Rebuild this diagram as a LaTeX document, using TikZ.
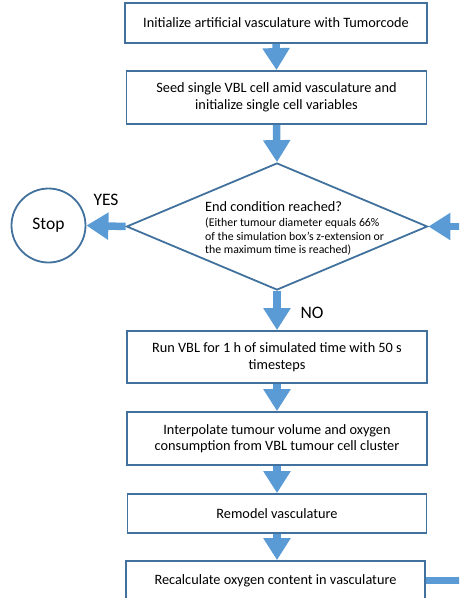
\documentclass[tikz,border=0pt]{standalone}
\usepackage{fontspec}
\setmainfont{Carlito}
\usetikzlibrary{shapes.geometric,arrows.meta}
\definecolor{boxline}{HTML}{41719C}
\definecolor{arrowblue}{HTML}{5B9BD5}
\begin{document}
\begin{tikzpicture}[x=1pt,y=-1pt,
  stepbox/.style={draw=boxline, line width=1.8pt, fill=white, minimum width=300pt,
    inner sep=0pt, align=center, font=\fontsize{14.3}{16.5}\selectfont},
  flow/.style={draw=arrowblue, line width=7.5pt, -{Triangle[width=26pt,length=22pt]}},
  biglabel/.style={font=\fontsize{17.5}{20}\selectfont, inner sep=0pt}
]
\useasboundingbox (0,0) rectangle (459,598);
\clip (0,0) rectangle (459,598);
\node[stepbox, minimum width=302pt, minimum height=40pt] (b1) at (276,23) {Initialize artificial vasculature with Tumorcode};
\node[stepbox, minimum height=53pt] (b2) at (276.5,97.5) {Seed single VBL cell amid vasculature and\\initialize single cell variables};
\node[draw=boxline, line width=1.8pt, diamond, minimum width=301pt, minimum height=127pt, inner sep=0pt, aspect=2.37] (cond) at (277,226.5) {};
\node[anchor=base west, inner sep=0pt, font=\fontsize{14.3}{16.5}\selectfont] (condtitle) at (205,211) {End condition reached?};
\node[anchor=north west, align=left, inner sep=0pt, font=\fontsize{11.8}{13.5}\selectfont] (condnote) at (205,218) {(Either tumour diameter equals 66\%\\of the simulation box’s z-extension or\\the maximum time is reached)};
\node[draw=boxline, line width=1.8pt, circle, minimum size=74pt, inner sep=0pt, font=\fontsize{17.5}{20}\selectfont] (stop) at (48.5,225.5) {Stop};
\node[biglabel] (yes) at (106,200) {YES};
\node[biglabel] (no) at (312,313) {NO};
\node[stepbox, minimum height=52pt] (b3) at (277,357) {Run VBL for 1 h of simulated time with 50 s\\timesteps};
\node[stepbox, minimum height=53pt] (b4) at (277,438.5) {Interpolate tumour volume and oxygen\\consumption from VBL tumour cell cluster};
\node[stepbox, minimum width=299pt, minimum height=39pt] (b5) at (277,513.5) {Remodel vasculature};
\node[stepbox, minimum width=299pt, minimum height=39pt] (b6) at (275.5,580.5) {Recalculate oxygen content in vasculature};
\coordinate (loopR) at (490,580.5);
\draw[flow] (b1.south) -- (b2.north);
\draw[flow] (b2.south) -- (cond.north);
\draw[flow] (cond.west) -- (stop.east);
\draw[flow] (cond.south) -- (b3.north);
\draw[flow] (b3.south) -- (b4.north);
\draw[flow] (b4.south) -- (b5.north);
\draw[flow] (b5.south) -- (b6.north -| b5.south);
\draw[flow] (b6.east) -- (loopR) |- (cond.east);
\end{tikzpicture}
\end{document}
